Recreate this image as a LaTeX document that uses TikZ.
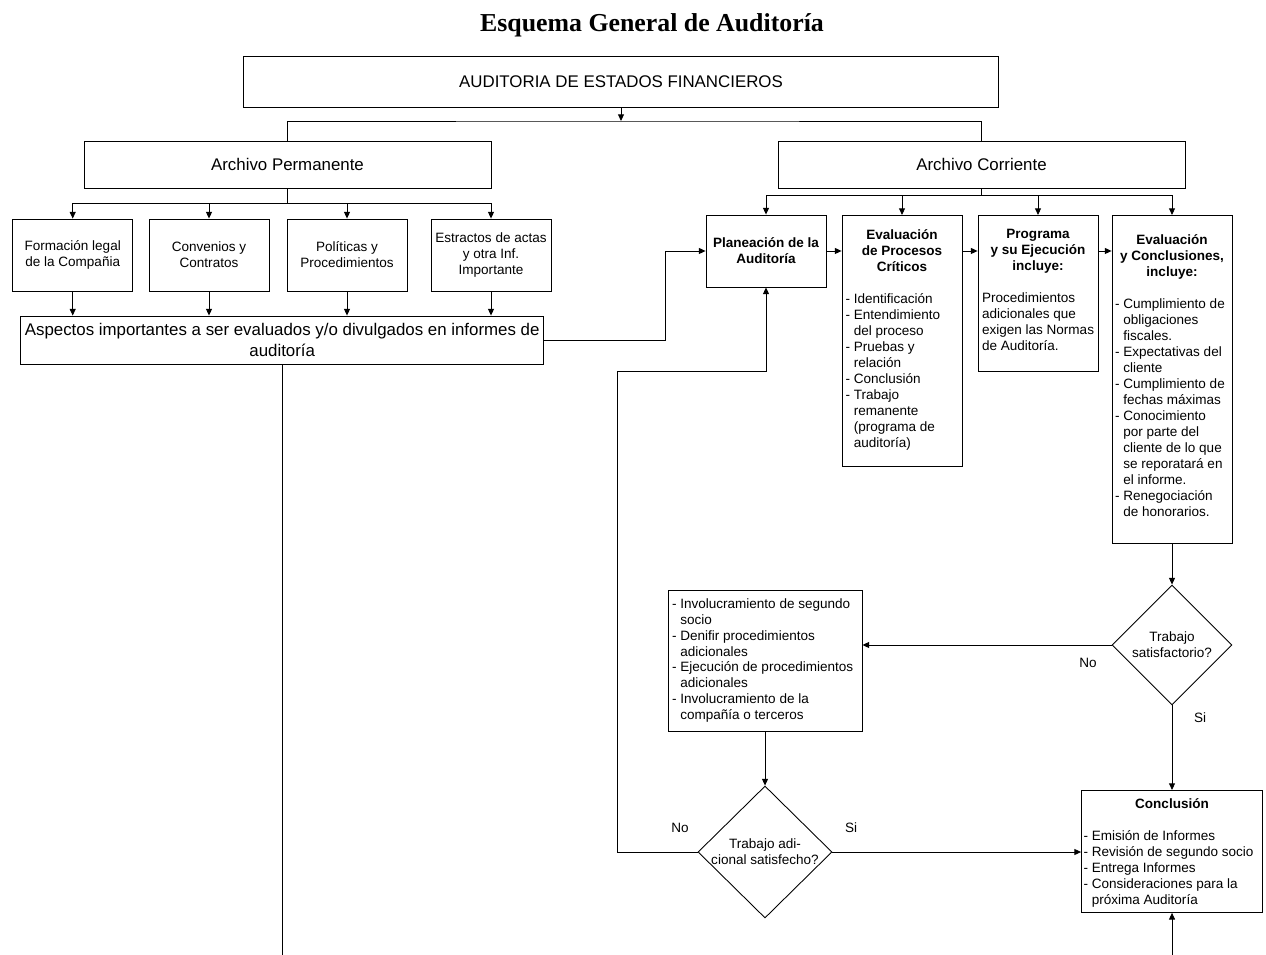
\documentclass[tikz,border=0pt]{standalone}
\usepackage{fontspec}
\setmainfont{Liberation Sans}
\newfontfamily\titulofont{Liberation Serif}
\usetikzlibrary{shapes.geometric,arrows.meta}

% lineas de las listas con sangria francesa
\newcommand{\punto}[1]{\par\hangindent=0.61em\hangafter=1\noindent\mbox{-\ #1}}
\newcommand{\sigue}[1]{\newline\mbox{#1}}

\begin{document}
\begin{tikzpicture}[x=0.02cm,y=-0.02cm]
\tikzset{caja/.style={draw, line width=0.5pt, inner sep=0pt, align=center, font=\fontsize{7.7}{9.1}\selectfont},
  grande/.style={caja, font=\fontsize{9.6}{11.9}\selectfont},
  chica/.style={caja, minimum width=2.4cm, minimum height=1.44cm},
  rombo/.style={draw, diamond, line width=0.5pt, inner sep=0pt, align=center, font=\fontsize{7.7}{9.1}\selectfont},
  etiqueta/.style={inner sep=0pt, font=\fontsize{7.7}{9.1}\selectfont},
  titulo/.style={inner sep=0pt, font=\titulofont\bfseries\fontsize{14.7}{17}\selectfont},
  flecha/.style={line width=0.5pt, -{Triangle[length=3.8pt,width=3.4pt]}},
  linea/.style={line width=0.5pt}}
\useasboundingbox (0,0) rectangle (1266,955);

\node[titulo] (titulo) at (652,25) {Esquema General de Auditoría};
\node[grande, minimum width=15.1cm, minimum height=1.02cm] (auditoria) at (621,81.5) {AUDITORIA DE ESTADOS FINANCIEROS};
\node[grande, minimum width=8.14cm, minimum height=0.94cm] (permanente) at (287.5,164.5) {Archivo Permanente};
\node[grande, minimum width=8.14cm, minimum height=0.94cm] (corriente) at (981.5,164.5) {Archivo Corriente};

% archivo permanente
\node[chica] (legal) at (72.7,255) {Formación legal\\de la Compañia};
\node[chica] (convenios) at (209,255) {Convenios y\\Contratos};
\node[chica] (politicas) at (347,255) {Políticas y\\Procedimientos};
\node[chica] (actas) at (491,255) {Estractos de actas\\y otra Inf.\\Importante};
\node[grande, minimum width=10.46cm, minimum height=0.96cm] (aspectos) at (282.2,340) {Aspectos importantes a ser evaluados y/o divulgados en informes de\\auditoría};

% archivo corriente
\node[chica, font=\bfseries\fontsize{7.7}{9.1}\selectfont] (planeacion) at (766,251) {Planeación de la\\Auditoría};
\node[caja, anchor=north, inner xsep=0.07cm] (procesos) at (902,215) {\parbox[t][5.02cm][t]{2.26cm}{\vspace*{0.28cm}{\centering\bfseries Evaluación\\de Procesos\\Críticos\par}\vspace{\baselineskip}\raggedright
  \punto{Identificación}\punto{Entendimiento}\sigue{del proceso}\punto{Pruebas y}\sigue{relación}\punto{Conclusión}\punto{Trabajo}\sigue{remanente}\sigue{(programa de}\sigue{auditoría)}}};
\node[caja, anchor=north, inner xsep=0.08cm] (programa) at (1038,215) {\parbox[t][3.12cm][t]{2.24cm}{\vspace*{0.28cm}{\centering\bfseries Programa\\y su Ejecución\\incluye:\par}\vspace{\baselineskip}\raggedright
  \mbox{Procedimientos}\sigue{adicionales que}\sigue{exigen las Normas}\sigue{de Auditoría.}}};
\node[caja, anchor=north, inner xsep=0.06cm] (evaluacion) at (1172,215) {\parbox[t][6.56cm][t]{2.28cm}{\vspace*{0.38cm}{\centering\bfseries Evaluación\\y Conclusiones,\\incluye:\par}\vspace{\baselineskip}\raggedright
  \punto{Cumplimiento de}\sigue{obligaciones}\sigue{fiscales.}\punto{Expectativas del}\sigue{cliente}\punto{Cumplimiento de}\sigue{fechas máximas}\punto{Conocimiento}\sigue{por parte del}\sigue{cliente de lo que}\sigue{se reporatará en}\sigue{el informe.}\punto{Renegociación}\sigue{de honorarios.}}};

\node[rombo, minimum width=2.4cm, minimum height=2.4cm] (satisfactorio) at (1172,645) {\makebox[0pt]{Trabajo}\\\makebox[0pt]{satisfactorio?}};
\node[caja, minimum width=3.88cm, minimum height=2.82cm, inner xsep=0.08cm] (involucra) at (765,660.5) {\parbox{3.72cm}{\raggedright
  \punto{Involucramiento de segundo}\sigue{socio}\punto{Denifir procedimientos}\sigue{adicionales}\punto{Ejecución de procedimientos}\sigue{adicionales}\punto{Involucramiento de la}\sigue{compañía o terceros}}};
\node[rombo, minimum width=2.68cm, minimum height=2.64cm] (adicional) at (765,852) {\makebox[0pt]{Trabajo adi-}\\\makebox[0pt]{cional satisfecho?}};
\node[caja, anchor=north, inner xsep=0.04cm] (conclusion) at (1172,790) {\parbox[t][2.44cm][t]{3.54cm}{\vspace*{0.16cm}{\centering\bfseries Conclusión\par}\vspace{\baselineskip}\raggedright
  \punto{Emisión de Informes}\punto{Revisión de segundo socio}\punto{Entrega Informes}\punto{Consideraciones para la}\sigue{próxima Auditoría}}};

\node[etiqueta] (no1) at (1088,663) {No};
\node[etiqueta] (si1) at (1200,718) {Si};
\node[etiqueta] (no2) at (680,828) {No};
\node[etiqueta] (si2) at (851,828) {Si};

\coordinate (bus) at (621,121);
\coordinate (busP) at (287.5,203);
\coordinate (busC) at (981.5,195);
\coordinate (finA) at (282.2,955);
\coordinate (finC) at (1172,955);

\draw[flecha] (auditoria.south) -- (bus);
\draw[linea] (permanente.north) |- (bus) -| (corriente.north);
\foreach \n in {legal,convenios,politicas,actas}
  \draw[flecha] (permanente.south) |- (busP -| \n.north) -- (\n.north);
\foreach \n in {legal,convenios,politicas,actas}
  \draw[flecha] (\n.south) -- (\n.south |- aspectos.north);
\draw[linea] (aspectos.south) -- (finA);
\draw[flecha] (aspectos.east) -- ++(121.5,0) |- (planeacion.west);
\foreach \n in {planeacion,procesos,programa,evaluacion}
  \draw[flecha] (corriente.south) |- (busC -| \n.north) -- (\n.north);
\draw[flecha] (planeacion.east) -- (planeacion.east -| procesos.west);
\draw[flecha] (planeacion.east -| procesos.east) -- (planeacion.east -| programa.west);
\draw[flecha] (planeacion.east -| programa.east) -- (planeacion.east -| evaluacion.west);
\draw[flecha] (evaluacion.south) -- (satisfactorio.north);
\draw[flecha] (satisfactorio.west) -- (satisfactorio.west -| involucra.east);
\draw[flecha] (satisfactorio.south) -- (conclusion.north);
\draw[flecha] (involucra.south) -- (adicional.north);
\draw[flecha] (adicional.east) -- (adicional.east -| conclusion.west);
\draw[flecha] (adicional.west) -| (617.7,371) -| (planeacion.south);
\draw[flecha] (finC) -- (conclusion.south);
\end{tikzpicture}
\end{document}
